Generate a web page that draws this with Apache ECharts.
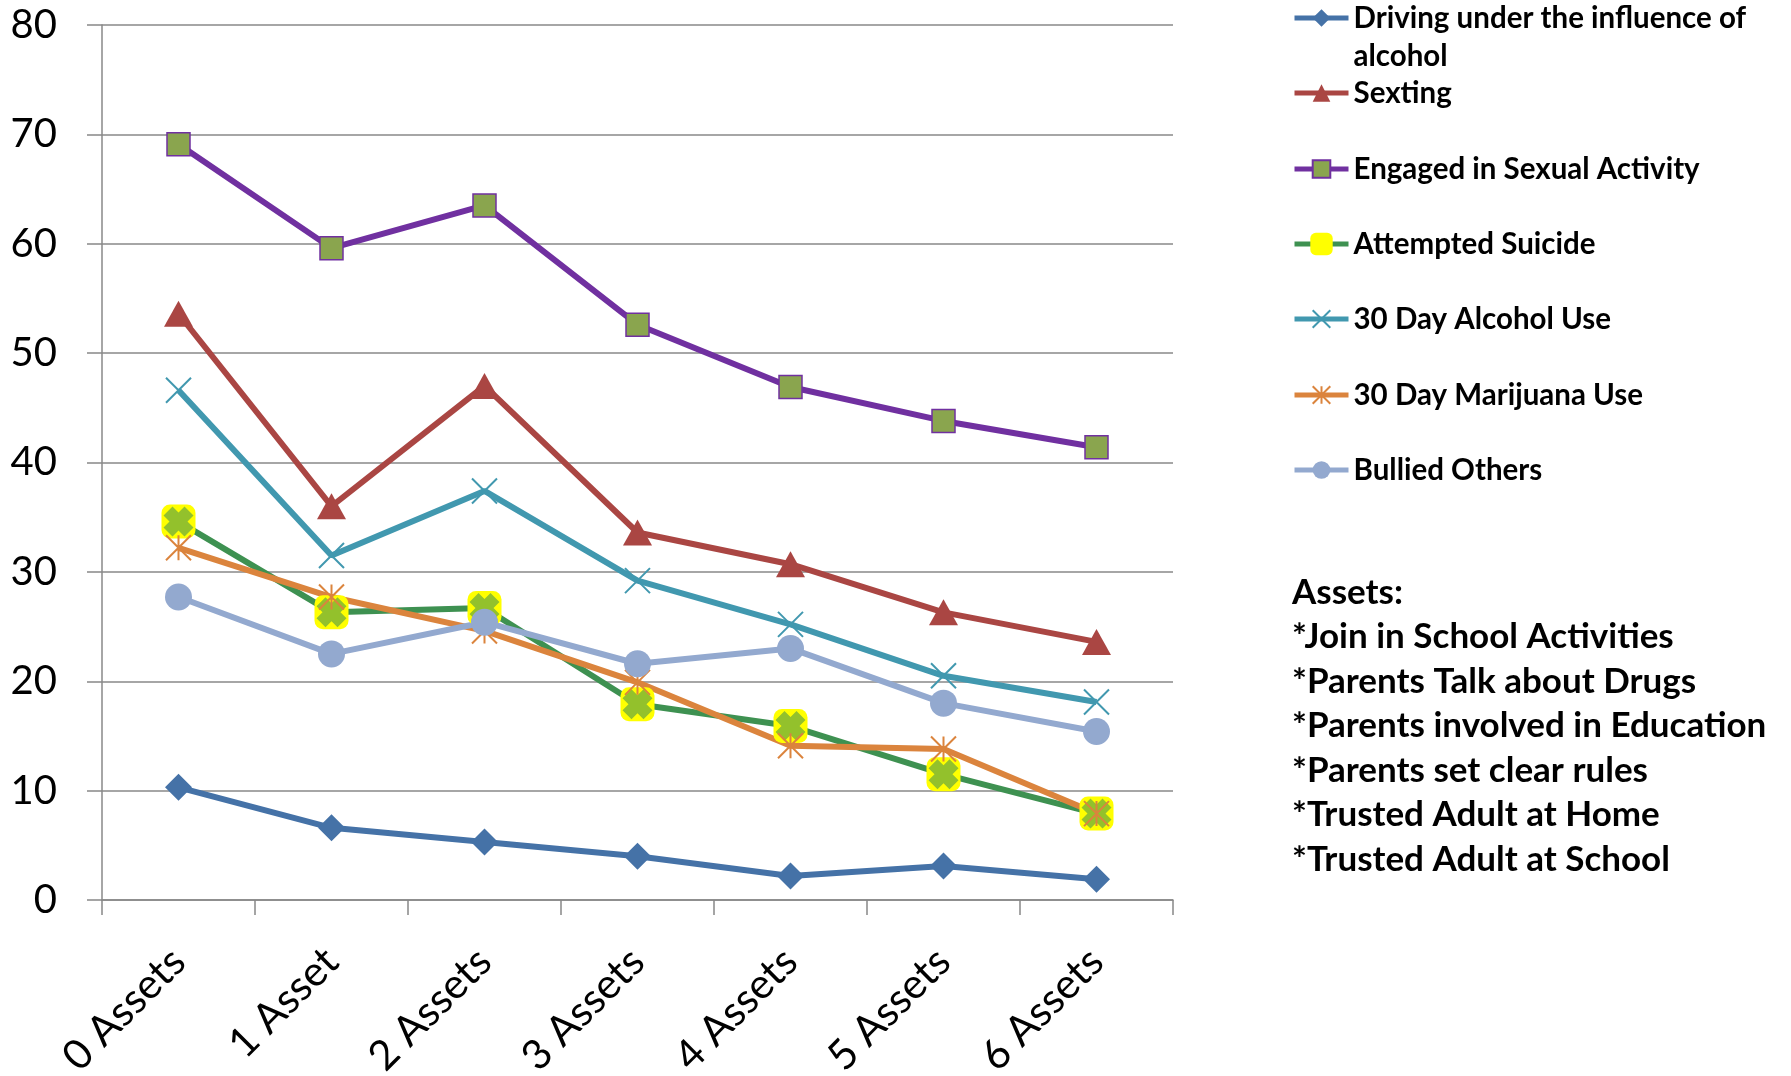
<!DOCTYPE html>
<html>
<head>
<meta charset="utf-8">
<script src="https://cdn.jsdelivr.net/npm/echarts/dist/echarts.min.js"></script>
<style>
html,body{margin:0;padding:0;background:#fff;}
#chart{width:1791px;height:1076px;}
</style>
</head>
<body>
<div id="chart"></div>
<script>
var categories = ['0 Assets','1 Asset','2 Assets','3 Assets','4 Assets','5 Assets','6 Assets'];
var yTicks = [0,10,20,30,40,50,60,70,80];
var seriesNames = ['Driving under the influence of alcohol','Sexting','Engaged in Sexual Activity','Attempted Suicide','30 Day Alcohol Use','30 Day Marijuana Use','Bullied Others'];
var drivingDUI = [10.3, 6.6, 5.3, 4.0, 2.2, 3.1, 1.9];
var sexting = [53.6, 36.0, 47.0, 33.6, 30.7, 26.3, 23.6];
var sexualActivity = [69.1, 59.6, 63.5, 52.6, 46.9, 43.8, 41.4];
var attemptedSuicide = [34.6, 26.3, 26.7, 17.9, 15.9, 11.5, 7.9];
var alcoholUse30 = [46.6, 31.5, 37.4, 29.2, 25.2, 20.5, 18.1];
var marijuanaUse30 = [32.2, 27.7, 24.6, 19.9, 14.1, 13.8, 7.9];
var bulliedOthers = [27.7, 22.5, 25.4, 21.6, 23.0, 18.0, 15.4];
var assetsNote = ['Assets:','*Join in School Activities','*Parents Talk about Drugs','*Parents involved in Education','*Parents set clear rules','*Trusted Adult at Home','*Trusted Adult at School'];

var FONT = 'Lato';
var LW = 6;
var chart = echarts.init(document.getElementById('chart'));

var xPath = 'path://M0,0L10,10M10,0L0,10';
var starPath = 'path://M5,0L5,10M0,0L10,10M10,0L0,10';
var fatX = 'path://M3,0L5,2L7,0L10,3L8,5L10,7L7,10L5,8L3,10L0,7L2,5L0,3Z';

function lineSeries(name, data, color, extra) {
  var s = {
    name: name, type: 'line', data: data,
    lineStyle: {color: color, width: LW},
    itemStyle: {color: color},
    symbolSize: 24,
    z: 2
  };
  for (var k in extra) s[k] = extra[k];
  return s;
}

var legendY = [18, 93, 169, 244, 319, 395, 470];
var legends = seriesNames.map(function(n, i){
  var first = (i === 0);
  return {
    data: [n],
    orient: 'vertical',
    left: 1292,
    top: first ? legendY[i] - 57 : legendY[i] - 19,
    padding: 0,
    itemWidth: 54,
    itemHeight: (i === 3 ? 28 : 22),
    selectedMode: false,
    lineStyle: {width: 5},
    formatter: first ? function(){ return '\nDriving under the influence of\nalcohol'; } : undefined,
    textStyle: {
      fontFamily: FONT, fontWeight: 'bold', fontSize: 29.5, color: '#000',
      lineHeight: 38
    }
  };
});

var option = {
  animation: false,
  backgroundColor: '#fff',
  grid: {left: 102, right: 618, top: 25, bottom: 176, containLabel: false, outerBoundsMode: 'none'},
  legend: legends,
  xAxis: {
    type: 'category',
    data: categories,
    boundaryGap: true,
    axisLine: {show: true, lineStyle: {color: '#888', width: 1.5}},
    axisTick: {show: true, length: 15, alignWithLabel: false, lineStyle: {color: '#888', width: 1.5}},
    axisLabel: {
      interval: 0, rotate: 45, margin: 55,
      fontFamily: FONT, fontSize: 41.5, color: '#000'
    }
  },
  yAxis: {
    type: 'value',
    min: 0, max: 80, interval: 10,
    axisLine: {show: true, lineStyle: {color: '#888', width: 1.5}},
    axisTick: {show: true, length: 15, lineStyle: {color: '#888', width: 1.5}},
    splitLine: {show: true, lineStyle: {color: '#888', width: 1.5}},
    axisLabel: {
      margin: 45, fontFamily: FONT, fontSize: 40, color: '#000',
      formatter: function(v){ return yTicks.indexOf(v) >= 0 ? String(v) : ''; }
    }
  },
  graphic: [{
    type: 'text',
    left: 1292,
    top: 570,
    style: {
      text: assetsNote.join('\n'),
      font: 'bold 35px ' + FONT,
      lineHeight: 44.5,
      fill: '#000'
    }
  }],
  series: [
    lineSeries(seriesNames[0], drivingDUI, '#4572A7', {symbol: 'diamond', symbolSize: 27}),
    lineSeries(seriesNames[1], sexting, '#AA4643', {symbol: 'triangle', symbolSize: [29, 26]}),
    lineSeries(seriesNames[2], sexualActivity, '#7030A0', {
      symbol: 'rect', symbolSize: 23,
      itemStyle: {color: '#8AA54E', borderColor: '#7030A0', borderWidth: 1.5}
    }),
    lineSeries(seriesNames[3], attemptedSuicide, '#3E9151', {
      symbol: 'roundRect', symbolSize: 34,
      itemStyle: {color: '#FFFF00'}
    }),
    {
      name: seriesNames[3], type: 'scatter', data: attemptedSuicide,
      symbol: fatX, symbolSize: 30,
      itemStyle: {color: '#93C12C', opacity: 1},
      z: 2
    },
    lineSeries(seriesNames[4], alcoholUse30, '#4198AF', {
      symbol: xPath, symbolSize: 25,
      itemStyle: {color: 'transparent', borderColor: '#4198AF', borderWidth: 2}
    }),
    lineSeries(seriesNames[5], marijuanaUse30, '#DB843D', {
      symbol: starPath, symbolSize: 25,
      itemStyle: {color: 'transparent', borderColor: '#DB843D', borderWidth: 2}
    }),
    lineSeries(seriesNames[6], bulliedOthers, '#93A9CF', {symbol: 'circle', symbolSize: 27})
  ]
};
chart.setOption(option);
</script>
</body>
</html>
